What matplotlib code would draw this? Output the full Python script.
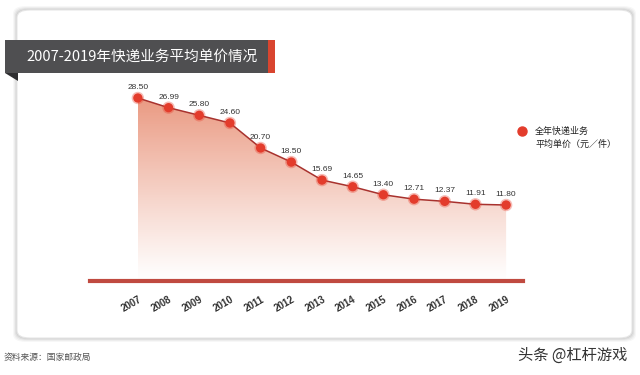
import matplotlib
matplotlib.use("Agg")
import matplotlib.pyplot as plt
import numpy as np
from matplotlib.patches import FancyBboxPatch, Rectangle, Polygon
from matplotlib.lines import Line2D

plt.rcParams['font.family'] = ['Noto Sans CJK SC', 'DejaVu Sans']

years = [2007, 2008, 2009, 2010, 2011, 2012, 2013, 2014, 2015, 2016, 2017, 2018, 2019]
prices = [28.50, 26.99, 25.80, 24.60, 20.70, 18.50, 15.69, 14.65, 13.40, 12.71, 12.37, 11.91, 11.80]
price_labels = ["28.50", "26.99", "25.80", "24.60", "20.70", "18.50", "15.69", "14.65",
                "13.40", "12.71", "12.37", "11.91", "11.80"]
title = "2007-2019年快递业务平均单价情况"
legend_text = "全年快递业务\n平均单价（元／件）"
source = "资料来源：国家邮政局"
watermark = "头条 @杠杆游戏"

W, H = 640, 375
fig = plt.figure(figsize=(W / 100, H / 100), dpi=100)
fig.patch.set_facecolor("white")

def fx(x):
    return x / W

def fy(y):
    return 1 - y / H

# card with shadow
for i, a in enumerate([0.03, 0.04, 0.05, 0.06]):
    d = 4 - i
    fig.patches.append(FancyBboxPatch((fx(17 - d), fy(338 + d)), fx(615 + 2 * d), (328 + 2 * d) / H,
                                      boxstyle="round,pad=0,rounding_size=0.02",
                                      transform=fig.transFigure, facecolor="black", alpha=a,
                                      edgecolor="none", zorder=0))
fig.patches.append(FancyBboxPatch((fx(17), fy(338)), fx(615), 328 / H,
                                  boxstyle="round,pad=0,rounding_size=0.02",
                                  transform=fig.transFigure, facecolor="white",
                                  edgecolor="#e6e6e6", linewidth=0.8, zorder=0.5))

# title bar
fig.patches.append(Polygon([(fx(5), fy(73)), (fx(18), fy(73)), (fx(18), fy(81))], closed=True,
                           transform=fig.transFigure, facecolor="#2e2e30", edgecolor="none", zorder=1))
fig.patches.append(Rectangle((fx(5), fy(73)), fx(263), 33 / H, transform=fig.transFigure,
                             facecolor="#4f4f51", edgecolor="none", zorder=1))
fig.patches.append(Rectangle((fx(268), fy(73)), fx(7), 33 / H, transform=fig.transFigure,
                             facecolor="#d9452f", edgecolor="none", zorder=1))
fig.text(fx(142), fy(57), title, color="white", fontsize=10.5, ha="center", va="center", zorder=2)

# axes
ax_l, ax_r, ax_t, ax_b = 90, 523, 74, 282
ax = fig.add_axes([fx(ax_l), fy(ax_b), fx(ax_r - ax_l), (ax_b - ax_t) / H])
ax.set_zorder(3)
ax.set_facecolor("none")
ppu = (205 - 98) / (28.5 - 11.8)
ymin = 11.8 - (ax_b - 205) / ppu
ymax = 28.5 + (98 - ax_t) / ppu
ax.set_xlim(2005.44, 2019.55)
ax.set_ylim(ymin, ymax)
for s in ax.spines.values():
    s.set_visible(False)
ax.set_yticks([])
ax.set_xticks(years)
ax.set_xticklabels([str(y) for y in years], rotation=30, ha="right", rotation_mode="anchor",
                   fontsize=7, color="#333333", family=["Liberation Sans", "DejaVu Sans"])
ax.tick_params(axis="x", length=0, pad=9)
for lbl in ax.get_xticklabels():
    lbl.set_fontweight("bold")

# gradient fill
grad = np.linspace(0, 1, 256)
rgba = np.zeros((256, 1, 4))
rgba[..., 0] = 0.89
rgba[..., 1] = 0.45
rgba[..., 2] = 0.32
rgba[:, 0, 3] = 0.72 * (1 - grad) ** 1.1
img = ax.imshow(rgba, extent=[years[0], years[-1], ymin, max(prices)], aspect="auto",
                origin="upper", zorder=1)
verts = np.vstack([np.column_stack([years, prices]), [[years[-1], ymin], [years[0], ymin]]])
clip = Polygon(verts, closed=True, transform=ax.transData, facecolor="none", edgecolor="none")
ax.add_patch(clip)
img.set_clip_path(clip)

ax.plot(years, prices, color="#a8322e", linewidth=1.1, zorder=3)
ax.scatter(years, prices, s=80, color="#e8402f", alpha=0.35, edgecolors="none", zorder=4)
ax.scatter(years, prices, s=45, color="#e33c2c", edgecolors="none", zorder=5)
for x, y, t in zip(years, prices, price_labels):
    ax.annotate(t, (x, y), xytext=(0, 5), textcoords="offset points", ha="center", va="bottom",
                fontsize=6, color="#333333", family=["Liberation Sans", "DejaVu Sans"], zorder=6)

ax.axhline(ymin + 0.15, color="#c04a40", linewidth=3, zorder=2, clip_on=False)

# legend
fig.add_artist(Line2D([fx(522)], [fy(131)], marker="o", markersize=6.5, color="#e33c2c",
                      linestyle="none", transform=fig.transFigure, zorder=4))
fig.text(fx(535), fy(138), legend_text, fontsize=6.5, color="#222222", ha="left", va="center",
         linespacing=1.45, zorder=4)

# footer
fig.text(fx(4), fy(357), source, fontsize=6.3, color="#555555", ha="left", va="center")
fig.text(fx(627), fy(355), watermark, fontsize=11, color="#333333", ha="right", va="center")

fig.savefig("out.png", dpi=100, facecolor="white")
